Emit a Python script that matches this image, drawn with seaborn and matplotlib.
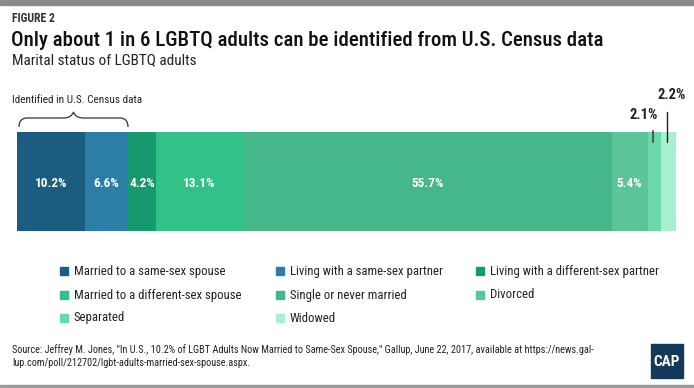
import matplotlib
matplotlib.use('Agg')

import numpy as np
import pandas as pd
import matplotlib.pyplot as plt
import seaborn as sns
from matplotlib.patches import Rectangle
from matplotlib.path import Path
from matplotlib.patches import PathPatch

categories = ["Married to a same-sex spouse", "Living with a same-sex partner",
              "Living with a different-sex partner", "Married to a different-sex spouse",
              "Single or never married", "Divorced", "Separated", "Widowed"]
values = [10.2, 6.6, 4.2, 13.1, 55.7, 5.4, 2.1, 2.2]
colors = ["#1b5d80", "#2d7ea6", "#16996d", "#32c186", "#45b78b", "#5bc597", "#6ad8a8", "#a7f0d2"]

sns.set_theme(style="white")
plt.rcParams['font.family'] = ['Roboto Condensed', 'Lato', 'DejaVu Sans']

df = pd.DataFrame({"status": categories, "pct": values})
df["cum"] = df["pct"].cumsum()
df["left"] = df["cum"] - df["pct"]
df["row"] = "LGBTQ adults"

fig = plt.figure(figsize=(6.94, 3.88), dpi=100)
W, H = 694, 388
ax = fig.add_axes([17 / W, 1 - 231 / H, (676 - 17) / W, 99 / H])

# stacked bar: draw cumulative totals, longest first
for i in reversed(range(len(df))):
    sns.barplot(x=[df["cum"][i]], y=[df["row"][i]], color=colors[i], orient="h",
                width=1.0, ax=ax, saturation=1, linewidth=0)
ax.set_xlim(0, df["cum"].iloc[-1])
ax.set_ylim(0.5, -0.5)
ax.axis("off")

for i, r in df.iterrows():
    if r["pct"] >= 4:
        ax.text(r["left"] + r["pct"] / 2, 0.02, f"{r['pct']:.1f}%", color="white",
                ha="center", va="center", fontsize=9.5, fontweight="bold")

# small outside labels
sep = df.iloc[6]
wid = df.iloc[7]
xs = sep["left"] + sep["pct"] / 2 - 0.2
ax.plot([xs, xs], [-0.51, -0.4], color="#555555", lw=1.4, clip_on=False)
ax.text(xs - 1.4, -0.6, "2.1%", ha="center", va="bottom", fontsize=10.5,
        fontweight="bold", color="#222222")
xw = wid["left"] + wid["pct"] / 2 - 0.2
ax.plot([xw, xw], [-0.7, -0.4], color="#222222", lw=1.0, clip_on=False)
ax.text(xw + 0.6, -0.8, "2.2%", ha="center", va="bottom", fontsize=10.5,
        fontweight="bold", color="#222222")

# top and bottom rules
fig.patches.append(Rectangle((0, 1 - 5 / H), 1, 5 / H, transform=fig.transFigure,
                             color="#8b8b8b", zorder=0))
fig.patches.append(Rectangle((0, 0), 1, 3 / H, transform=fig.transFigure,
                             color="#9a9a9a", zorder=0))

fig.text(12 / W, 1 - 19 / H, "FIGURE 2", fontsize=8.5, fontweight="bold",
         color="#333333", va="center")
fig.text(11 / W, 1 - 41 / H, "Only about 1 in 6 LGBTQ adults can be identified from U.S. Census data",
         fontsize=15, fontweight="medium", color="#111111", va="center")
fig.text(12 / W, 1 - 60 / H, "Marital status of LGBTQ adults", fontsize=11,
         color="#222222", va="center")
fig.text(12 / W, 1 - 100 / H, "Identified in U.S. Census data", fontsize=8.1,
         color="#222222", va="center")

# curly brace over the census-identified segments
x0, x1 = 19, 128
xm = (x0 + x1) / 2
yb, yt, yp = 127, 118, 112
pts = [(x0, yb), (x0, yt), (x0 + 8, yt), (x0 + 10, yt),
       (xm - 10, yt), (xm - 2, yt), (xm, yp),
       (xm + 2, yt), (xm + 10, yt), (x1 - 10, yt),
       (x1 - 8, yt), (x1, yt), (x1, yb)]
pts = [(x / W, 1 - y / H) for x, y in pts]
codes = [Path.MOVETO, Path.CURVE3, Path.CURVE3, Path.LINETO,
         Path.LINETO, Path.CURVE3, Path.CURVE3,
         Path.CURVE3, Path.CURVE3, Path.LINETO,
         Path.LINETO, Path.CURVE3, Path.CURVE3]
fig.patches.append(PathPatch(Path(pts, codes), transform=fig.transFigure,
                             fill=False, lw=0.9, edgecolor="#333333"))

# legend laid out row-wise, three columns
col_x = [60, 276, 476]
row_y = [271, 295, 318]
for i, (lab, c) in enumerate(zip(categories, colors)):
    cx, cy = col_x[i % 3], row_y[i // 3]
    fig.patches.append(Rectangle((cx / W, 1 - (cy + 4) / H), 8 / W, 8 / H,
                                 transform=fig.transFigure, color=c))
    fig.text((cx + 14) / W, 1 - cy / H, lab, fontsize=9.2, color="#222222", va="center")

fig.text(12 / W, 1 - 350 / H,
         "Source: Jeffrey M. Jones, \"In U.S., 10.2% of LGBT Adults Now Married to Same-Sex Spouse,\" Gallup, June 22, 2017, available at https://news.gal-",
         fontsize=7.4, color="#222222", va="center")
fig.text(12 / W, 1 - 363 / H, "lup.com/poll/212702/lgbt-adults-married-sex-spouse.aspx.",
         fontsize=7.4, color="#222222", va="center")

# CAP logo box
fig.patches.append(Rectangle((651 / W, 1 - 378 / H), 32 / W, 34 / H,
                             transform=fig.transFigure, color="#143859"))
fig.text(667 / W, 1 - 362 / H, "CAP", fontsize=11, fontweight="bold", color="white",
         ha="center", va="center")

fig.savefig("out.png", dpi=100)
